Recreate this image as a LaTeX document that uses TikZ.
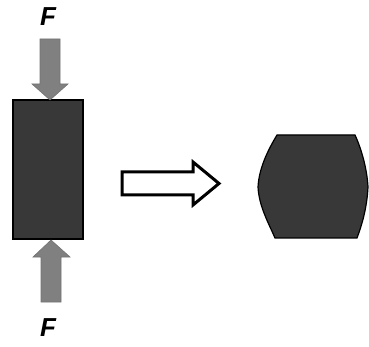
\documentclass[tikz,border=0pt]{standalone}
\usepackage{fontspec}
\setmainfont{Liberation Sans}
\begin{document}
\begin{tikzpicture}[x=1pt,y=-1pt,
  force/.style={fill=black!50, draw=black!55, line width=0.6pt},
  lbl/.style={font=\fontsize{26}{26}\selectfont\bfseries\itshape, inner sep=0pt},
  body/.style={fill=black!78, draw=black, line width=1.5pt}]
\useasboundingbox (0,0) rectangle (369,347);
% specimen before
\node[body, minimum width=70pt, minimum height=139pt, inner sep=0pt] (spec) at (48,169.5) {};
% top force arrow
\draw[force] (40,39) -- (60,39) -- (60,84) -- (68,84) -- (50,100) -- (32,84) -- (40,84) -- cycle;
\node[lbl] (ftop) at (48,17) {F};
% bottom force arrow
\draw[force] (41,302) -- (61,302) -- (61,257) -- (70,257) -- (51,240) -- (33,257) -- (41,257) -- cycle;
\node[lbl] (fbot) at (48,328) {F};
% hollow arrow
\draw[line width=3pt, fill=white, line join=miter] (122,172) -- (193,172) -- (193,162) -- (219,183.5) -- (193,205) -- (193,195) -- (122,195) -- cycle;
% barrel after
\draw[body, line width=1.2pt] (277,135) -- (355,135)
  .. controls (361,148) and (367,168) .. (368,187)
  .. controls (367,206) and (363,222) .. (357,238)
  -- (275,238)
  .. controls (268,222) and (259,206) .. (258,187)
  .. controls (259,168) and (268,150) .. cycle;
\end{tikzpicture}
\end{document}
